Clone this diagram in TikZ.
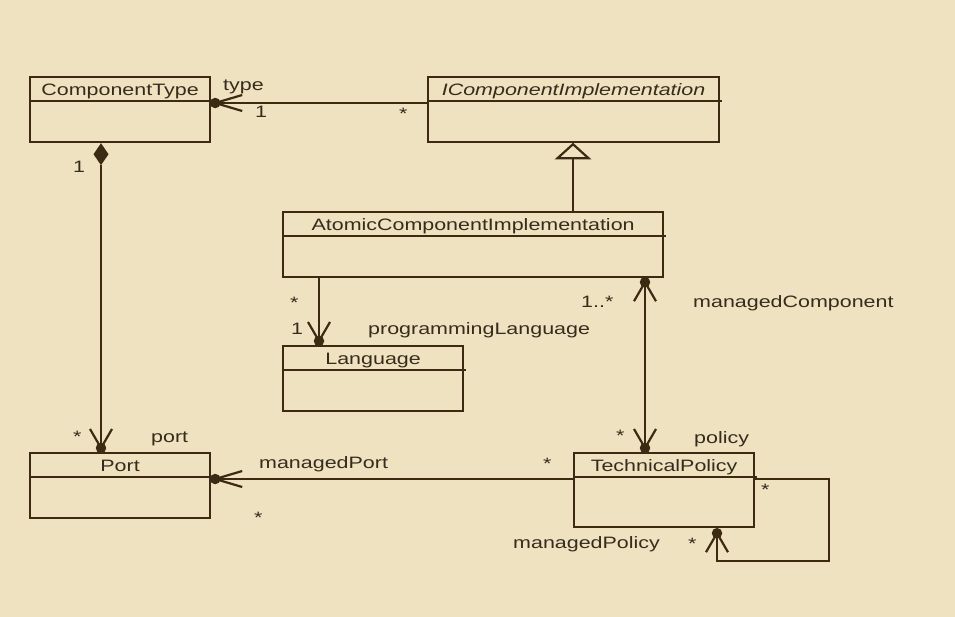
\documentclass[tikz,border=0pt]{standalone}
\usepackage{fontspec}
\setmainfont{Liberation Sans}[FakeStretch=1.3]
\usetikzlibrary{calc}
\definecolor{bg}{HTML}{EFE2C1}
\definecolor{ink}{HTML}{3A2B12}
\definecolor{txt}{HTML}{352C1C}
\tikzset{
  umlbox/.style={draw=ink, line width=2.2pt, rectangle, inner sep=0pt, anchor=north west},
  conn/.style={draw=ink, line width=2.2pt},
  lbl/.style={text=txt, font=\fontsize{16.5}{18}\selectfont, inner sep=0pt, anchor=base west},
  ttl/.style={text=txt, font=\fontsize{16.5}{18}\selectfont, inner sep=0pt, anchor=base},
  dotmark/.style={fill=ink, circle, inner sep=0pt, minimum size=10.5pt}
}
% dot + barbs: #1 point, #2 #3 barb offset 1, #4 #5 barb offset 2
\newcommand{\navend}[5]{%
  \draw[conn] ($(#1)+(#2,#3)$) -- (#1) -- ($(#1)+(#4,#5)$);
  \node[dotmark] at (#1) {};
}
\newcommand{\umlclass}[6]{% name, x, y, w, h, title
  \node[umlbox, minimum width=#4pt, minimum height=#5pt] (#1) at (#2,#3) {};
  \draw[conn] (#1.north west) ++(0,25) -- ($(#1.north east)+(2,25)$);
  \node[ttl] at ($(#1.north)+(0,19)$) {#6};
}
\begin{document}
\begin{tikzpicture}[x=1pt,y=-1pt]
\useasboundingbox (0,0) rectangle (955,616);
\fill[bg] (-3,-3) rectangle (958,619);

\umlclass{ct}{29}{76}{180}{65}{ComponentType}
\umlclass{ici}{427}{76}{291}{65}{\itshape IComponentImplementation}
\umlclass{aci}{282}{211}{380}{65}{AtomicComponentImplementation}
\umlclass{lang}{282}{345}{180}{65}{Language}
\umlclass{port}{29}{452}{180}{65}{Port}
\umlclass{tp}{573}{452}{180}{74}{TechnicalPolicy}

% type association
\coordinate (typeDot) at ($(ct.north east)+(4,27)$);
\draw[conn] (typeDot) -- (typeDot -| ici.west);
\navend{typeDot}{27}{-8}{27}{8}
\node[lbl] at (223,90) {type};
\node[lbl] at (255,117) {1};
\node[lbl] at (399,119) {*};

% composition ComponentType -> Port
\coordinate (diaTop) at ($(ct.south west)+(72,0)$);
\coordinate (portDot) at (diaTop |- port.north);
\coordinate (portDotC) at ($(portDot)+(0,-4)$);
\fill[ink] (diaTop) -- ++(7.5,11) -- ++(-7.5,11) -- ++(-7.5,-11) -- cycle;
\draw[conn] ($(diaTop)+(0,22)$) -- (portDotC);
\navend{portDotC}{-11}{-19}{11}{-19}
\node[lbl] at (73,172) {1};
\node[lbl] at (73,442) {*};
\node[lbl] at (151,442) {port};

% generalization
\coordinate (genTip) at ($(ici.south west)+(146,1)$);
\draw[conn] (genTip |- aci.north) -- ($(genTip)+(0,14)$);
\draw[conn, fill=bg, line join=miter] (genTip) -- ++(15.5,14) -- ++(-31,0) -- cycle;

% programmingLanguage
\coordinate (langDot) at ($(lang.north west)+(37,-4)$);
\draw[conn] (langDot |- aci.south) -- (langDot);
\navend{langDot}{-11}{-19}{11}{-19}
\node[lbl] at (290,308) {*};
\node[lbl] at (291,334) {1};
\node[lbl] at (368,334) {programmingLanguage};

% managedComponent / policy
\coordinate (mcDot) at ($(aci.south west)+(363,4)$);
\coordinate (polDot) at ($(mcDot |- tp.north)+(0,-4)$);
\draw[conn] (mcDot) -- (polDot);
\navend{mcDot}{-11}{19}{11}{19}
\navend{polDot}{-11}{-19}{11}{-19}
\node[lbl] at (581,307) {1..*};
\node[lbl] at (693,307) {managedComponent};
\node[lbl] at (616,441) {*};
\node[lbl] at (694,443) {policy};

% managedPort
\coordinate (mpDot) at ($(port.north east)+(4,27)$);
\draw[conn] (mpDot) -- (mpDot -| tp.west);
\navend{mpDot}{27}{-8}{27}{8}
\node[lbl] at (259,468) {managedPort};
\node[lbl] at (543,469) {*};
\node[lbl] at (254,523) {*};

% self loop managedPolicy
\coordinate (mpolDot) at ($(tp.south west)+(144,5)$);
\coordinate (loopA) at ($(tp.north east)+(74,27)$);
\draw[conn, line join=miter] ($(tp.north east)+(0,27)$) -- (loopA) -- (loopA |- 0,561) -- (mpolDot |- 0,561) -- (mpolDot);
\navend{mpolDot}{-11}{19}{11}{19}
\node[lbl] at (761,495) {*};
\node[lbl] at (688,549) {*};
\node[lbl] at (513,548) {managedPolicy};
\end{tikzpicture}
\end{document}
